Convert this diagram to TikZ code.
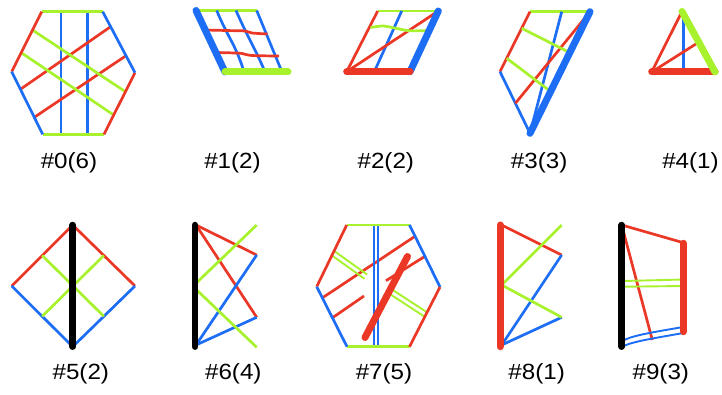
\documentclass[tikz,border=0pt]{standalone}
\usepackage{fontspec}
\setmainfont{Liberation Sans}
\definecolor{cR}{RGB}{234,55,38}
\definecolor{cB}{RGB}{30,110,245}
\definecolor{cG}{RGB}{168,242,45}
\begin{document}
\begin{tikzpicture}[x=1pt,y=-1pt,
  ln/.style={line width=2.7pt},
  dbl/.style={line width=1.9pt},
  hv/.style={line width=7pt,line cap=round},
  bk/.style={line width=6.5pt,line cap=round,black},
  lbl/.style={font=\fontsize{22}{26}\selectfont,inner sep=0pt,xscale=1.1}]
\useasboundingbox (0,0) rectangle (722,395);
% ---------- #0
\coordinate (a0) at (41.7,11.7); \coordinate (b0) at (102.7,11.7);
\coordinate (c0) at (135,72.7);  \coordinate (d0) at (104,134.3);
\coordinate (e0) at (42.7,134.3); \coordinate (f0) at (11.7,71.7);
\draw[ln,cB] (61,11.7) -- (61,134.3);
\draw[ln,cB] (87.3,11.7) -- (87.3,134.3);
\draw[ln,cR] (20.4,89.3) -- (110.6,26.7);
\draw[ln,cR] (34.3,117.3) -- (126,55.7);
\draw[ln,cG] (32.5,30) -- (125.4,91.7);
\draw[ln,cG] (21.2,52.7) -- (113.7,115);
\draw[ln,cG] (a0) -- (b0); \draw[ln,cG] (e0) -- (d0);
\draw[ln,cR] (a0) -- (f0); \draw[ln,cR] (d0) -- (c0);
\draw[ln,cB] (f0) -- (e0); \draw[ln,cB] (c0) -- (b0);
\node[lbl] (l0) at (69,163) {\#0(6)};
% ---------- #1
\coordinate (a1) at (196,10.5); \coordinate (b1) at (256.7,10.5);
\coordinate (c1) at (288,72); \coordinate (d1) at (225,72);
\draw[ln,cG] (a1) -- (b1);
\draw[ln,cB] (216.7,10.5) .. controls (228,38) and (236,45) .. (244,72);
\draw[ln,cB] (236,10.5) .. controls (248,38) and (256,50) .. (265,72);
\draw[ln,cB] (b1) -- (282,72);
\draw[ln,cR] plot[smooth] coordinates {(205,30) (230,30.6) (245,31) (252,33) (267.5,34)};
\draw[ln,cR] plot[smooth] coordinates {(216,52.5) (235,53) (242,53.5) (252,55.5) (279,56)};
\draw[hv,cB] (a1) -- (d1);
\draw[hv,cG] (d1) -- (c1);
\node[lbl] (l1) at (232.5,163) {\#1(2)};
% ---------- #2
\coordinate (a2) at (377.7,11); \coordinate (b2) at (438.3,11);
\coordinate (c2) at (410,71.7); \coordinate (d2) at (346.7,71.7);
\draw[ln,cG] (a2) -- (b2);
\draw[ln,cR] (a2) -- (d2);
\draw[ln,cB] (401.7,11) -- (374.3,71.7);
\draw[ln,cR] (d2) -- (b2);
\draw[ln,cG] plot[smooth] coordinates {(370.5,27.5) (383,26) (397,28.5) (410,30.8) (431,30.5)};
\draw[hv,cB] (c2) -- (b2);
\draw[hv,cR] (d2) -- (c2);
\node[lbl] (l2) at (385.8,163) {\#2(2)};
% ---------- #3
\coordinate (a3) at (530,11.7); \coordinate (b3) at (590,11.7);
\coordinate (c3) at (530,133.3); \coordinate (d3) at (500,71.7);
\draw[ln,cG] (a3) -- (b3);
\draw[ln,cR] (a3) -- (d3);
\draw[ln,cB] (d3) -- (c3);
\draw[ln,cB] (561.7,11.7) -- (c3);
\draw[ln,cR] (b3) -- (515.4,103.3);
\draw[ln,cG] (521.7,28.3) -- (571,53.3);
\draw[ln,cG] (506.7,58.3) -- (553,93.3);
\draw[hv,cB] (b3) -- (c3);
\node[lbl] (l3) at (539.2,163) {\#3(3)};
% ---------- #4
\coordinate (a4) at (682,11.5); \coordinate (b4) at (715,72); \coordinate (c4) at (651.7,72);
\draw[ln,cR] (c4) -- (a4);
\draw[ln,cB] (683.3,13) -- (683.3,72);
\draw[ln,cR] (c4) -- (697,43.3);
\draw[hv,cR] (c4) -- (b4);
\draw[hv,cG] (a4) -- (b4);
\node[lbl] (l4) at (690.5,163) {\#4(1)};
% ---------- #5
\coordinate (t5) at (72.7,225); \coordinate (r5) at (135,286);
\coordinate (b5) at (72.7,346.7); \coordinate (l5) at (11.7,286);
\draw[ln,cR] (l5) -- (t5) -- (r5);
\draw[ln,cB] (l5) -- (b5) -- (r5);
\draw[ln,cG] (42.2,255.5) -- (103.8,316.3);
\draw[ln,cG] (42.2,316.3) -- (103.8,255.5);
\draw[bk] (t5) -- (b5);
\node[lbl] (n5) at (80.8,374) {\#5(2)};
% ---------- #6
\draw[ln,cR] (196,225) -- (256.7,255);
\draw[ln,cR] (196,225) -- (256.7,317.3);
\draw[ln,cB] (196,345) -- (256.7,255);
\draw[ln,cB] (196,345) -- (256.7,317.3);
\draw[ln,cG] (196,283.3) -- (256.7,225);
\draw[ln,cG] (196,289.3) -- (256.7,347.3);
\draw[bk] (195,225) -- (195,346.7);
\node[lbl] (n6) at (233.3,374) {\#6(4)};
% ---------- #7
\coordinate (a7) at (346.7,225); \coordinate (b7) at (409.5,225);
\coordinate (c7) at (440,287); \coordinate (d7) at (409.5,346.7);
\coordinate (e7) at (347,346.7); \coordinate (f7) at (316.7,286.7);
\draw[ln,cR] (321.7,298.3) -- (415,236.3);
\draw[ln,cR] (331.7,318.3) -- (364,296);
\draw[ln,cR] (386,280.7) -- (425,256.3);
\draw[dbl,cG] (334.5,251.2) -- (367,274.5);
\draw[dbl,cG] (332,255.5) -- (364.5,278.8);
\draw[dbl,cG] (392,289.5) -- (427,312.3);
\draw[dbl,cG] (389.5,293.8) -- (424.5,316.6);
\draw[dbl,cB] (374,225) -- (374,346.7);
\draw[dbl,cB] (378.3,225) -- (378.3,346.7);
\draw[ln,cG] (a7) -- (b7); \draw[ln,cG] (e7) -- (d7);
\draw[ln,cR] (a7) -- (f7); \draw[ln,cB] (f7) -- (e7);
\draw[ln,cB] (b7) -- (c7); \draw[ln,cR] (c7) -- (d7);
\draw[hv,cR] (365,337.5) -- (407.5,256.5);
\node[lbl] (n7) at (384,374) {\#7(5)};
% ---------- #8
\draw[ln,cR] (501.7,225) -- (561.7,255);
\draw[ln,cB] (501.7,345) -- (561.7,255);
\draw[ln,cB] (501.7,345) -- (561.7,317.3);
\draw[ln,cG] (501.7,285) -- (561.7,225);
\draw[ln,cG] (501.7,285) -- (561.7,317.3);
\draw[hv,cR] (500,225) -- (500,346.7);
\node[lbl] (n8) at (536.7,374) {\#8(1)};
% ---------- #9
\draw[ln,cR] (621.7,225) -- (683.3,242.7);
\draw[ln,cR] (621.7,225) -- (652.3,340);
\draw[dbl,cG] (624,281) -- (683.3,279.5);
\draw[dbl,cG] (624,286.7) -- (683.3,286);
\draw[dbl,cB] (621.7,341.5) .. controls (630,336) and (648,333) .. (683.3,327);
\draw[dbl,cB] (621.7,347) .. controls (632,341.5) and (650,339) .. (683.3,333);
\draw[hv,cR] (683.3,243.3) -- (683.3,331.7);
\draw[bk] (621.7,225) -- (621.7,346.7);
\node[lbl] (n9) at (660.8,374) {\#9(3)};
\end{tikzpicture}
\end{document}
